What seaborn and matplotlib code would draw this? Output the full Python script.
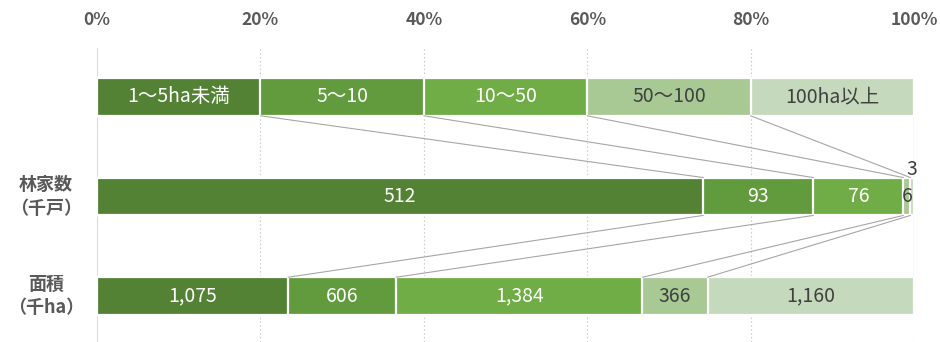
import numpy as np
import pandas as pd
import matplotlib
matplotlib.use("Agg")
import matplotlib.pyplot as plt
import matplotlib.transforms as mtransforms
import seaborn as sns

# ---- data ----
classes = ["1～5ha未満", "5～10", "10～50", "50～100", "100ha以上"]
households = [512, 93, 76, 6, 3]          # 千戸
area = [1075, 606, 1384, 366, 1160]       # 千ha
row_names = ["凡例", "林家数\n（千戸）", "面積\n（千ha）"]
tick_vals = [0, 20, 40, 60, 80, 100]
tick_labels = ["0%", "20%", "40%", "60%", "80%", "100%"]
hh_labels = ["512", "93", "76", "6", "3"]
area_labels = ["1,075", "606", "1,384", "366", "1,160"]

colors = ["#548235", "#629A3E", "#70AD47", "#A8C894", "#C5DABD"]
text_colors = ["white", "white", "white", "#404040", "#404040"]

sns.set_theme(style="white")
plt.rcParams["font.family"] = ["Noto Sans CJK JP", "DejaVu Sans"]

legend_share = np.full(len(classes), 100.0 / len(classes))
hh_share = np.array(households) / np.sum(households) * 100
area_share = np.array(area) / np.sum(area) * 100
shares = [legend_share, hh_share, area_share]
cums = [np.cumsum(s) for s in shares]

records = []
for r, name in enumerate(row_names):
    for k in range(len(classes)):
        records.append({"row": name, "k": k, "cum": cums[r][k], "share": shares[r][k]})
df = pd.DataFrame(records)

fig = plt.figure(figsize=(9.4, 3.42), dpi=100)
ax = fig.add_axes([97 / 940, 0.0, (914 - 97) / 940, (342 - 48) / 342])

bar_h = 0.38
for k in reversed(range(len(classes))):
    sub = df[df["k"] == k]
    sns.barplot(data=sub, x="cum", y="row", order=row_names, orient="h",
                color=colors[k], width=bar_h, edgecolor="white", linewidth=1.6,
                saturation=1, ax=ax)

ax.set_xlim(0, 100)
ax.set_ylim(2.46, -0.49)

# grid lines
for v in tick_vals[1:]:
    ax.axvline(v, color="#CFCFCF", lw=0.8, ls=(0, (1.5, 2)), zorder=0)
ax.axvline(0, color="#D9D9D9", lw=1.5, zorder=0)

# connectors
half = bar_h / 2
for r in range(2):
    for k in range(len(classes)):
        ax.plot([cums[r][k], cums[r + 1][k]], [r + half, r + 1 - half],
                color="#A6A6A6", lw=0.8, zorder=1)

# segment labels
for k in range(len(classes)):
    left = cums[0][k] - shares[0][k]
    ax.text(left + shares[0][k] / 2, 0, classes[k], ha="center", va="center",
            fontsize=14, color=text_colors[k], zorder=5)
for r, labels in [(1, hh_labels), (2, area_labels)]:
    for k in range(len(classes)):
        mid = cums[r][k] - shares[r][k] / 2
        y = r
        if r == 1 and k == 4:
            y = r - 0.27
        ax.text(mid, y, labels[k], ha="center", va="center",
                fontsize=14, color=text_colors[k] if shares[r][k] > 3 else "#404040",
                zorder=5)

# axes styling
ax.xaxis.tick_top()
ax.set_xticks(tick_vals)
ax.set_xticklabels(tick_labels, fontsize=12.5, fontweight="bold", color="#595959")
ax.tick_params(axis="x", length=0, pad=13.5)
ax.set_yticks([])
ax.set_ylabel("")
ax.set_xlabel("")
for s in ax.spines.values():
    s.set_visible(False)

trans = mtransforms.blended_transform_factory(fig.transFigure, ax.transData)
for r in (1, 2):
    ax.text(46 / 940, r, row_names[r], transform=trans, ha="center", va="center",
            fontsize=13, fontweight="bold", color="#595959", linespacing=1.3)

fig.savefig("out.png", dpi=100)
